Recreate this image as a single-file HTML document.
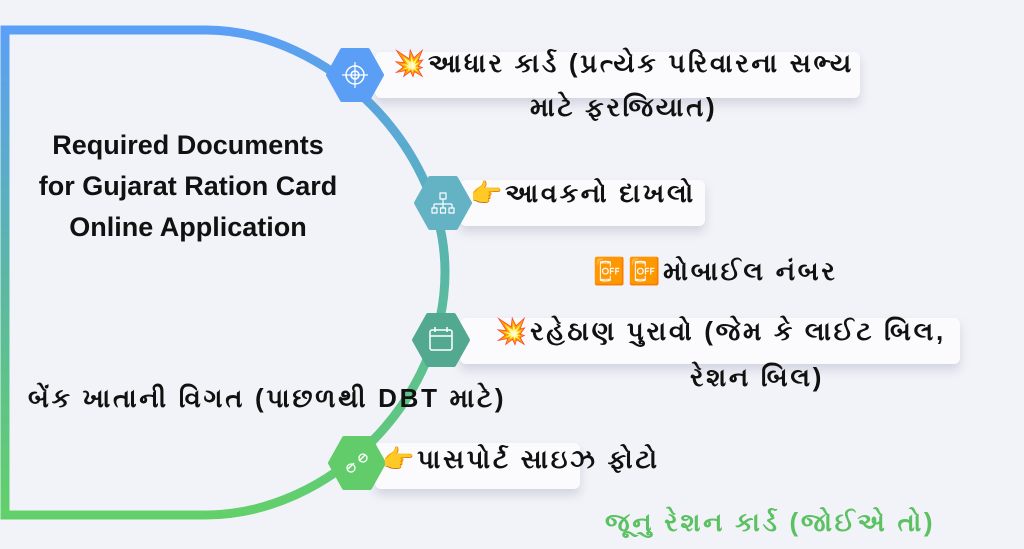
<!DOCTYPE html>
<html><head><meta charset="utf-8"><style>
body{margin:0;width:1024px;height:549px;background:#f2f3f8;overflow:hidden;position:relative;font-family:"Liberation Sans","DejaVu Sans",sans-serif;font-weight:bold;color:#111}
.t{position:absolute;font-size:26px;letter-spacing:2.7px;white-space:nowrap;line-height:30px}
.box{position:absolute;background:#fbfbfd;border-radius:6px;box-shadow:0 6px 10px rgba(120,120,160,0.25)}
</style></head><body>
<svg width="1024" height="549" style="position:absolute;left:0;top:0">
<defs><linearGradient id="g" x1="0" y1="0" x2="0" y2="1">
<stop offset="0" stop-color="#5b9ff6"/><stop offset="0.5" stop-color="#5ab7a6"/><stop offset="1" stop-color="#62d06a"/></linearGradient></defs>
<path d="M5,30 L205,30 C330,30 445,150 445,272 C445,400 330,515 205,515 L5,515 Z" fill="none" stroke="url(#g)" stroke-width="9"/>
</svg>
<div class="box" style="left:375px;top:52px;width:485px;height:46px"></div>
<div class="box" style="left:460px;top:180px;width:245px;height:46px"></div>
<div class="box" style="left:460px;top:318px;width:500px;height:46px"></div>
<div class="box" style="left:375px;top:443px;width:205px;height:46px"></div>
<svg width="1024" height="549" style="position:absolute;left:0;top:0">
<g stroke-linejoin="round">
<g transform="translate(355,75)"><polygon points="-27,0 -13,-25 13,-25 27,0 13,25 -13,25" fill="#5b9ef5" stroke="#5b9ef5" stroke-width="4"/><circle r="9" fill="none" stroke="#fff" stroke-width="1.5"/><circle r="4" fill="none" stroke="#fff" stroke-width="1.5"/><path d="M0,-13V13M-13,0H13" stroke="#fff" stroke-width="1.2"/></g>
<g transform="translate(443,203)"><polygon points="-27,0 -13,-25 13,-25 27,0 13,25 -13,25" fill="#63b3c4" stroke="#63b3c4" stroke-width="4"/><path d="M-3,-10h6v6h-6z M0,-4v5 M-9,1h18 M-9,1v4 M0,1v4 M9,1v4 M-11,5h5v5h-5z M-2.5,5h5v5h-5z M6,5h5v5h-5z" fill="none" stroke="#fff" stroke-width="1.2"/></g>
<g transform="translate(441,340)"><polygon points="-27,0 -13,-25 13,-25 27,0 13,25 -13,25" fill="#52a98f" stroke="#52a98f" stroke-width="4"/><rect x="-11" y="-10" width="22" height="20" rx="2" fill="none" stroke="#fff" stroke-width="1.5"/><path d="M-11,-4H11M-6,-13v5M6,-13v5" stroke="#fff" stroke-width="1.5"/></g>
<g transform="translate(357,463)"><polygon points="-27,0 -13,-25 13,-25 27,0 13,25 -13,25" fill="#62cc6a" stroke="#62cc6a" stroke-width="4"/><path d="M-9,6 l6,-6 M2,-2 l6,-6" stroke="#fff" stroke-width="1.5" fill="none"/><circle cx="-6" cy="5" r="4" fill="none" stroke="#fff" stroke-width="1.3"/><circle cx="6" cy="-5" r="4" fill="none" stroke="#fff" stroke-width="1.3"/></g>
</g>
</svg>
<div style="position:absolute;left:18px;top:125px;width:340px;text-align:center;font-size:27px;line-height:41px;color:#111">Required Documents<br>for Gujarat Ration Card<br>Online Application</div>
<div class="t" style="left:393px;top:48px">💥આધાર કાર્ડ (પ્રત્યેક પરિવારના સભ્ય</div>
<div class="t" style="left:530px;top:92px">માટે ફરજિયાત)</div>
<div class="t" style="left:470px;top:178px">👉આવકનો દાખલો</div>
<div class="t" style="left:593px;top:256px">📴📴મોબાઈલ નંબર</div>
<div class="t" style="left:495px;top:316px">💥રહેઠાણ પુરાવો (જેમ કે લાઈટ બિલ,</div>
<div class="t" style="left:690px;top:362px">રેશન બિલ)</div>
<div class="t" style="left:28px;top:383px">બેંક ખાતાની વિગત (પાછળથી DBT માટે)</div>
<div class="t" style="left:382px;top:444px">👉પાસપોર્ટ સાઇઝ ફોટો</div>
<div class="t" style="left:605px;top:507px;color:#5cc163">જૂનુ રેશન કાર્ડ (જોઈએ તો)</div>
</body></html>
